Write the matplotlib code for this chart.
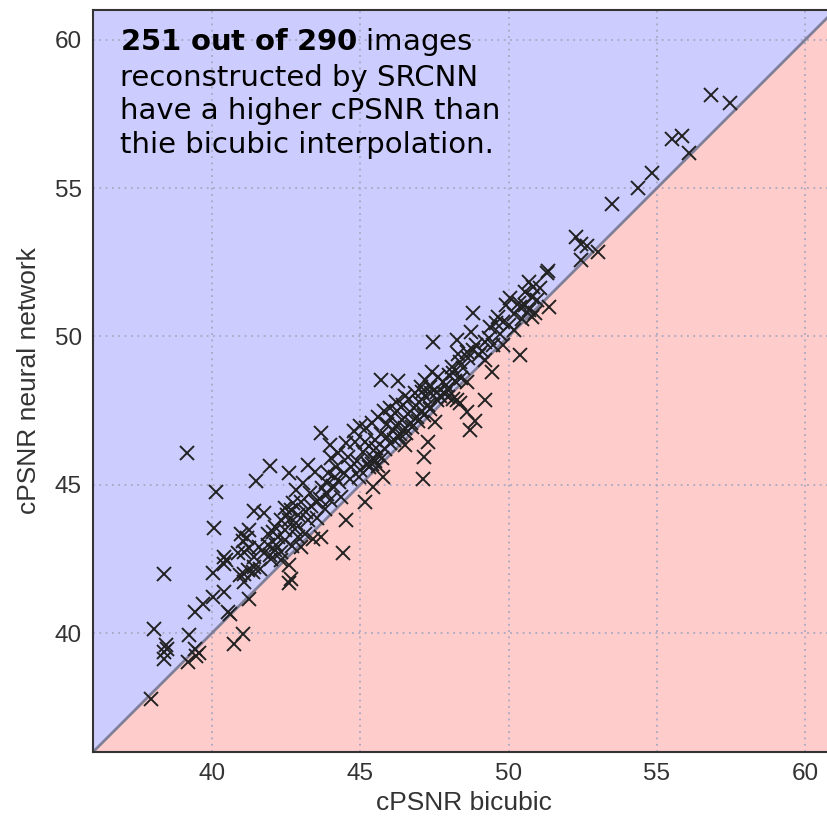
import numpy as np
import matplotlib
matplotlib.use('Agg')
import matplotlib.pyplot as plt

# cPSNR of the bicubic interpolation (x) and of SRCNN (y)
bicubic = [
    37.95, 38.06, 38.40, 38.46, 38.51, 38.40, 38.40, 39.17, 39.25, 39.21,
    39.42, 39.58, 39.42, 39.70, 40.03, 40.15, 40.07, 40.03, 39.48,
    40.43, 40.47, 40.43, 40.54, 40.60, 40.74, 41.05, 41.27, 40.94, 41.10,
    41.22, 41.61, 41.10, 41.39, 40.43, 40.88, 41.10, 41.27, 41.44, 41.44,
    40.99, 41.27, 41.44, 41.48, 41.05, 41.20,
    41.76, 41.95, 42.12, 41.89, 42.12, 41.95, 42.62, 42.85, 42.68, 42.46,
    42.91, 42.62, 42.34, 42.85, 42.46, 42.23, 41.89, 42.17, 42.46, 42.91,
    42.34, 42.34, 42.62, 42.68, 42.62, 41.75, 42.00, 41.60, 42.70, 42.80,
    42.05, 42.55, 42.75,
    43.07, 43.24, 43.47, 43.30, 43.64, 43.52, 43.02, 43.19, 43.13, 43.41,
    43.69, 43.02, 43.98, 44.03, 44.26, 43.92, 44.14, 44.43, 44.54, 43.70,
    43.90, 44.10, 44.30, 43.35, 43.80, 44.00, 43.55, 44.35, 43.68, 43.25,
    43.85, 44.20, 44.45,
    44.54, 44.82, 44.59, 45.16, 45.44, 45.78, 44.70, 44.90, 45.10, 45.30,
    45.50, 45.70, 45.00, 45.25, 45.45, 45.60, 45.85, 45.20, 45.40, 45.60,
    45.80, 45.70, 45.00, 44.80, 45.90, 45.40, 45.50, 45.60, 45.75, 45.30,
    44.65, 44.95, 45.55, 45.15, 45.90,
    46.28, 46.51, 47.52, 47.28, 47.16, 47.13, 46.00, 46.10, 46.20, 46.30,
    46.40, 46.50, 46.60, 46.70, 46.80, 46.90, 47.00, 47.10, 47.20, 47.30,
    47.40, 46.05, 46.25, 46.45, 46.65, 46.85, 47.05, 46.15, 46.35, 46.55,
    46.75, 46.95, 47.15, 47.35, 47.41, 47.19, 47.35, 47.07, 46.50, 46.20,
    46.00,
    47.47, 47.64, 47.80, 47.58, 47.97, 48.08, 48.14, 48.48, 48.37, 48.65,
    48.99, 48.59, 48.82, 48.25, 48.75, 48.82, 47.97, 48.25, 48.59, 48.87,
    48.71, 48.37, 48.14, 48.60, 47.70, 47.90, 48.20, 48.40, 47.60, 47.85,
    48.00, 48.30, 48.90,
    49.21, 49.44, 49.21, 49.49, 49.83, 49.21, 49.38, 49.59, 49.83, 49.66,
    50.17, 50.40, 49.10, 49.35, 49.70, 50.00, 50.06, 50.34, 49.93, 50.56,
    50.20, 50.45,
    51.33, 51.30, 50.68, 50.84, 51.07, 50.56, 50.78, 50.95, 50.40, 50.68,
    50.90, 51.35, 50.78,
    52.26, 52.43, 52.64, 52.43, 53.01, 53.48, 54.36, 54.83, 55.50, 55.84,
    56.08, 56.81, 57.47,
]
srcnn = [
    37.80, 40.16, 42.01, 39.60, 39.48, 39.37, 39.15, 46.09, 39.93, 39.03,
    39.48, 39.32, 40.72, 41.00, 41.22, 44.75, 43.56, 42.03, 39.22,
    42.35, 42.46, 41.39, 40.72, 40.66, 39.65, 39.99, 41.17, 41.96, 42.01,
    42.12, 42.15, 41.73, 42.07, 42.57, 42.69, 42.74, 42.86, 42.57, 42.24,
    43.36, 43.47, 44.12, 45.13, 43.10, 43.20,
    44.04, 45.64, 43.59, 42.97, 42.80, 42.63, 45.39, 44.82, 44.15, 44.21,
    43.98, 43.81, 43.81, 43.70, 43.47, 43.25, 43.36, 42.97, 43.14, 43.25,
    42.74, 42.46, 42.29, 41.84, 41.68, 42.70, 42.50, 42.90, 42.95, 43.50,
    43.40, 44.00, 44.40,
    45.05, 45.67, 45.44, 44.71, 44.54, 44.43, 44.43, 44.09, 43.36, 43.19,
    43.25, 42.91, 46.34, 45.89, 46.06, 45.39, 45.27, 42.69, 43.81, 44.90,
    44.70, 44.95, 45.10, 44.30, 44.20, 44.50, 43.90, 44.60, 46.75, 43.80,
    45.10, 45.60, 45.40,
    46.40, 46.45, 45.95, 44.43, 44.93, 45.27, 45.60, 45.80, 46.10, 46.30,
    46.50, 46.70, 45.50, 45.70, 45.90, 46.00, 46.20, 46.90, 47.10, 47.30,
    47.50, 48.53, 47.00, 46.80, 46.60, 45.70, 45.80, 45.65, 45.90, 45.60,
    45.20, 45.25, 46.25, 46.45, 47.05,
    48.51, 46.34, 47.13, 46.45, 45.94, 45.20, 46.40, 46.80, 47.00, 46.60,
    47.20, 46.90, 47.40, 47.10, 47.60, 47.30, 47.80, 47.50, 48.00, 47.70,
    48.10, 47.30, 47.50, 47.70, 47.90, 48.10, 48.30, 46.50, 46.70, 46.75,
    46.95, 47.15, 47.35, 47.55, 48.81, 48.53, 48.31, 48.14, 48.00, 47.80,
    47.60,
    49.82, 48.65, 48.48, 48.14, 48.20, 48.98, 48.76, 48.93, 49.15, 49.26,
    49.38, 49.49, 49.54, 49.88, 50.16, 50.80, 47.97, 47.86, 47.46, 47.15,
    46.85, 47.75, 47.91, 48.45, 48.00, 48.35, 48.50, 48.60, 47.85, 48.05,
    48.70, 49.40, 49.70,
    47.86, 48.81, 49.82, 49.71, 49.71, 49.21, 50.33, 50.45, 50.50, 50.67,
    50.22, 49.38, 49.50, 49.95, 50.10, 50.40, 51.29, 51.12, 51.06, 51.06,
    50.75, 50.60,
    52.22, 52.15, 51.85, 51.68, 51.64, 51.51, 51.34, 51.23, 51.01, 50.89,
    50.79, 51.00, 50.67,
    53.36, 53.12, 53.05, 52.58, 52.85, 54.47, 55.01, 55.51, 56.66, 56.76,
    56.19, 58.12, 57.85,
]
ticks = [40, 45, 50, 55, 60]
lims = [36, 61]
note = ("$\\bf{251\\ out\\ of\\ 290}$ images\n"
        "reconstructed by SRCNN\n"
        "have a higher cPSNR than\n"
        "thie bicubic interpolation.")

fig = plt.figure(figsize=(8.27, 8.22), dpi=100)
ax = fig.add_axes([93/827., 70/822., 742/827., 742/822.])

ax.fill_between(lims, lims, lims[1], color='blue', alpha=0.2, lw=0, zorder=0)
ax.fill_between(lims, lims[0], lims, color='red', alpha=0.2, lw=0, zorder=0)
ax.plot(lims, lims, color='#7f7f99', lw=2, zorder=1.8)
ax.plot(bicubic, srcnn, 'x', color='#222222', ms=9.5, mew=1.4, zorder=2)

ax.set_xlim(lims)
ax.set_ylim(lims)
ax.set_xticks(ticks)
ax.set_yticks(ticks)
ax.set_axisbelow('line')
ax.grid(True, ls=(0, (1, 2.5)), color='#a8a8c0', lw=1.3)
ax.tick_params(length=0, pad=8, labelsize=17.5)
for lab in ax.get_xticklabels() + ax.get_yticklabels():
    lab.set_family('Liberation Sans')
    lab.set_color('#333333')
for side in ['top', 'left', 'bottom', 'right']:
    ax.spines[side].set_color('#333333')
    ax.spines[side].set_linewidth(1.5)

ax.set_xlabel('cPSNR bicubic', fontsize=19, family='Liberation Sans',
              color='#333333', labelpad=4)
ax.set_ylabel('cPSNR neural network', fontsize=19, family='Liberation Sans',
              color='#333333', labelpad=10)

ax.text(36.9, 60.45, note, fontsize=21, family='DejaVu Sans', va='top',
        ha='left', linespacing=1.25, color='black')

fig.savefig('out.png', dpi=100)
